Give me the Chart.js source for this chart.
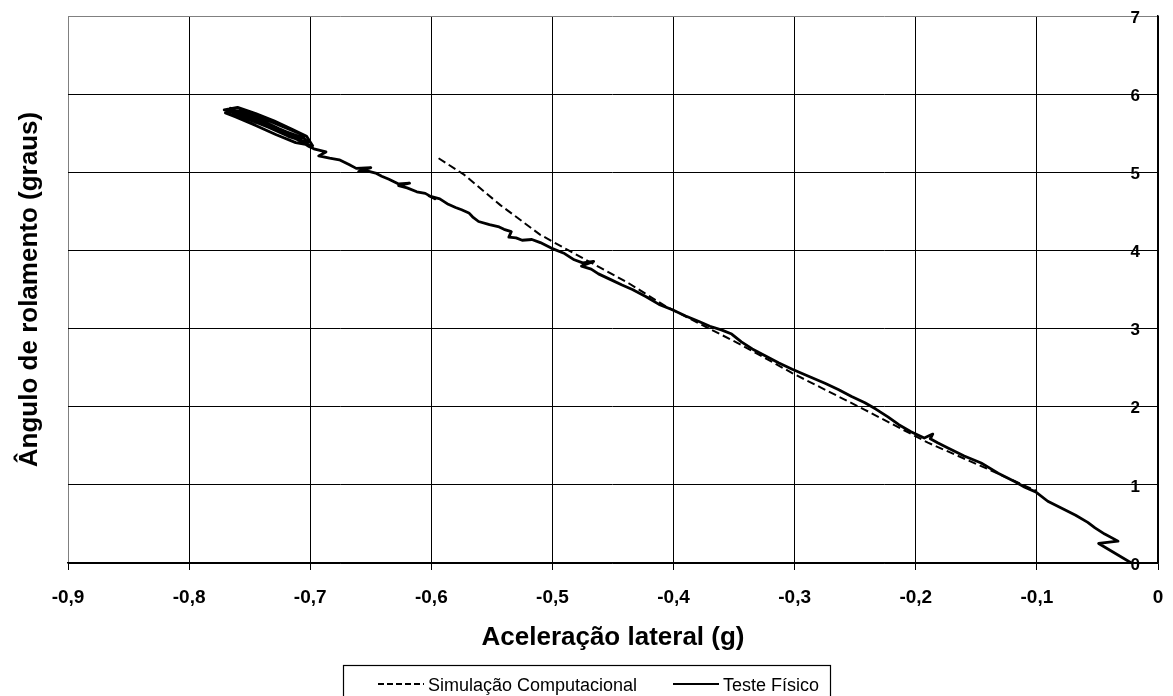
<!DOCTYPE html>
<html>
<head>
<meta charset="utf-8">
<script src="https://cdn.jsdelivr.net/npm/chart.js@4.4.1/dist/chart.umd.min.js"></script>
<style>
  html, body { margin: 0; padding: 0; background: #ffffff; }
  #wrap { width: 1173px; height: 696px; position: relative; }
</style>
</head>
<body>
<div id="wrap"><canvas id="c" width="1173" height="696"></canvas></div>
<script>
const xTickValues = [-0.9, -0.8, -0.7, -0.6, -0.5, -0.4, -0.3, -0.2, -0.1, 0];
const xTickLabels = ['-0,9', '-0,8', '-0,7', '-0,6', '-0,5', '-0,4', '-0,3', '-0,2', '-0,1', '0'];
const yTickValues = [0, 1, 2, 3, 4, 5, 6, 7];
const yTickLabels = ['0', '1', '2', '3', '4', '5', '6', '7'];

const xAxisTitle = 'Aceleração lateral (g)';
const yAxisTitle = 'Ângulo de rolamento (graus)';
const seriesNames = ['Simulação Computacional', 'Teste Físico'];

// Simulação Computacional (dashed)
const simX = [-0.594, -0.573, -0.543, -0.510, -0.469, -0.437, -0.406, -0.344, -0.302, -0.242, -0.190, -0.146, -0.100];
const simY = [5.18, 4.97, 4.58, 4.20, 3.85, 3.58, 3.28, 2.79, 2.43, 1.96, 1.54, 1.24, 0.92];

// Teste Físico (solid)
const testX = [-0.022, -0.049, -0.033, -0.044, -0.052, -0.058, -0.068, -0.077, -0.091, -0.101,
  -0.110, -0.118, -0.132, -0.146, -0.160, -0.173, -0.182, -0.188, -0.186, -0.193,
  -0.204, -0.214, -0.223, -0.233, -0.242, -0.253, -0.264, -0.275, -0.290, -0.302,
  -0.313, -0.324, -0.335, -0.344, -0.352, -0.360, -0.370, -0.379, -0.390, -0.401,
  -0.412, -0.423, -0.434, -0.443, -0.451, -0.462, -0.468, -0.476, -0.466, -0.475,
  -0.482, -0.490, -0.501, -0.510, -0.517, -0.525, -0.530, -0.536, -0.534, -0.540,
  -0.544, -0.552, -0.561, -0.566, -0.569, -0.575, -0.580, -0.586, -0.593, -0.602,
  -0.597, -0.605, -0.612, -0.620, -0.627, -0.618, -0.627, -0.635, -0.641, -0.646,
  -0.654, -0.660, -0.650, -0.662, -0.668, -0.676, -0.684, -0.693, -0.687, -0.697,
  -0.701, -0.708, -0.715, -0.725, -0.736, -0.748, -0.758, -0.771, -0.760, -0.745,
  -0.730, -0.715, -0.703, -0.698, -0.712, -0.728, -0.745, -0.762, -0.770, -0.758,
  -0.742, -0.725, -0.708, -0.702, -0.718, -0.735, -0.752, -0.766, -0.754, -0.738,
  -0.722, -0.706, -0.716, -0.732, -0.748, -0.764, -0.757, -0.741, -0.726, -0.711,
  -0.720, -0.736, -0.751];
const testY = [0.00, 0.25, 0.28, 0.37, 0.45, 0.52, 0.61, 0.68, 0.79, 0.91,
  0.97, 1.04, 1.15, 1.28, 1.37, 1.47, 1.54, 1.59, 1.65, 1.60,
  1.68, 1.77, 1.87, 1.97, 2.05, 2.13, 2.22, 2.30, 2.40, 2.48,
  2.56, 2.65, 2.74, 2.83, 2.93, 2.98, 3.03, 3.09, 3.16, 3.24,
  3.31, 3.41, 3.50, 3.56, 3.62, 3.70, 3.76, 3.80, 3.86, 3.84,
  3.88, 3.96, 4.03, 4.10, 4.14, 4.13, 4.16, 4.17, 4.24, 4.27,
  4.30, 4.33, 4.37, 4.43, 4.48, 4.52, 4.55, 4.59, 4.66, 4.70,
  4.66, 4.73, 4.75, 4.80, 4.83, 4.86, 4.85, 4.91, 4.95, 4.99,
  5.02, 5.01, 5.06, 5.05, 5.10, 5.16, 5.18, 5.21, 5.26, 5.30,
  5.33, 5.40, 5.45, 5.54, 5.62, 5.70, 5.75, 5.80, 5.83, 5.75,
  5.66, 5.55, 5.46, 5.34, 5.38, 5.48, 5.60, 5.71, 5.76, 5.79,
  5.71, 5.60, 5.49, 5.38, 5.46, 5.58, 5.69, 5.82, 5.75, 5.64,
  5.53, 5.44, 5.45, 5.56, 5.66, 5.76, 5.77, 5.67, 5.56, 5.46,
  5.50, 5.61, 5.71];

const FONT = '"Liberation Sans", Arial, Helvetica, sans-serif';

const toPoints = (xs, ys) => xs.map((x, i) => ({ x: x, y: ys[i] }));

const decorPlugin = {
  id: 'decor',
  afterDraw(chart) {
    const ctx = chart.ctx;
    const area = chart.chartArea;
    ctx.save();
    ctx.fillStyle = '#000';
    // x-axis title
    ctx.font = 'bold 26px ' + FONT;
    ctx.textAlign = 'center';
    ctx.textBaseline = 'alphabetic';
    ctx.fillText(xAxisTitle, (area.left + area.right) / 2, 645);
    // y-axis title
    ctx.save();
    ctx.translate(37, (area.top + area.bottom) / 2);
    ctx.rotate(-Math.PI / 2);
    ctx.fillText(yAxisTitle, 0, 0);
    ctx.restore();

    // legend box
    ctx.strokeStyle = '#000';
    ctx.lineWidth = 1.2;
    ctx.strokeRect(343.5, 665.5, 487, 40);
    ctx.font = '18px ' + FONT;
    ctx.textAlign = 'left';
    ctx.textBaseline = 'alphabetic';
    const items = [
      { ds: chart.data.datasets[0], x0: 378, x1: 424, tx: 428 },
      { ds: chart.data.datasets[1], x0: 673, x1: 719, tx: 723 }
    ];
    items.forEach(it => {
      ctx.save();
      ctx.strokeStyle = it.ds.borderColor;
      ctx.lineWidth = 2;
      ctx.setLineDash(it.ds.borderDash && it.ds.borderDash.length ? [6, 3] : []);
      ctx.beginPath();
      ctx.moveTo(it.x0, 684);
      ctx.lineTo(it.x1, 684);
      ctx.stroke();
      ctx.restore();
      ctx.fillText(it.ds.label, it.tx, 691);
    });
    ctx.restore();
  }
};

new Chart(document.getElementById('c'), {
  type: 'scatter',
  data: {
    datasets: [
      {
        label: seriesNames[0],
        data: toPoints(simX, simY),
        showLine: true,
        borderColor: '#000',
        borderWidth: 2,
        borderDash: [8, 4],
        pointRadius: 0,
        fill: false,
        tension: 0
      },
      {
        label: seriesNames[1],
        data: toPoints(testX, testY),
        showLine: true,
        borderColor: '#000',
        borderWidth: 2.8,
        pointRadius: 0,
        fill: false,
        tension: 0,
        borderJoinStyle: 'round',
        borderCapStyle: 'round'
      }
    ]
  },
  options: {
    responsive: false,
    animation: false,
    devicePixelRatio: 1,
    layout: { padding: { left: 68, top: 16, right: 0, bottom: 0 } },
    plugins: {
      legend: { display: false },
      tooltip: { enabled: false },
      title: { display: false }
    },
    scales: {
      x: {
        type: 'linear',
        position: 'bottom',
        min: -0.9,
        max: 0,
        afterBuildTicks: s => { s.ticks = xTickValues.map(v => ({ value: v })); },
        afterFit: s => { s.height = 133; s.paddingLeft = 0; s.paddingRight = 0; },
        grid: {
          color: ctx => (ctx.index === 0 ? '#808080' : '#000'),
          lineWidth: 1,
          drawTicks: true,
          tickLength: 7,
          tickColor: '#000'
        },
        border: { display: true, color: '#000', width: 1.5 },
        ticks: {
          color: '#000',
          font: { family: FONT, size: 19, weight: 'bold' },
          padding: 16,
          maxRotation: 0,
          autoSkip: false,
          callback: (v, i) => xTickLabels[i]
        }
      },
      y: {
        type: 'linear',
        position: 'right',
        min: 0,
        max: 7,
        afterBuildTicks: s => { s.ticks = yTickValues.map(v => ({ value: v })); },
        afterFit: s => { s.width = 15; s.paddingTop = 0; s.paddingBottom = 0; },
        grid: {
          color: ctx => (ctx.index === yTickValues.length - 1 ? '#808080' : '#000'),
          lineWidth: 1,
          drawTicks: false
        },
        border: { display: true, color: '#000', width: 1.5 },
        ticks: {
          color: '#000',
          mirror: true,
          padding: -18,
          labelOffset: 2,
          font: { family: FONT, size: 17, weight: 'bold' },
          autoSkip: false,
          callback: (v, i) => yTickLabels[i]
        }
      }
    }
  },
  plugins: [decorPlugin]
});
</script>
</body>
</html>
